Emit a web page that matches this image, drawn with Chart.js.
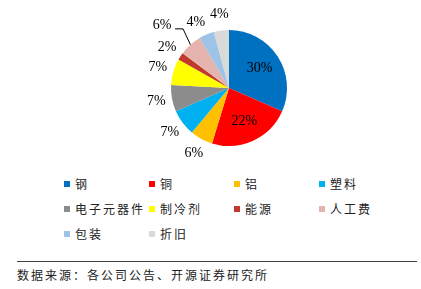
<!DOCTYPE html>
<html>
<head>
<meta charset="utf-8">
<script src="https://cdn.jsdelivr.net/npm/chart.js@4.4.0/dist/chart.umd.min.js"></script>
<style>
	body { margin: 0; background: #fff; width: 421px; height: 289px; position: relative; overflow: hidden; }
	#wrap { position: absolute; left: 0; top: 0; width: 421px; height: 165px; }
	#legend { position: absolute; left: 64px; top: 171px; display: grid; grid-template-columns: 85px 85px 85px 85px; grid-auto-rows: 25px; }
	.item { display: flex; align-items: center; font: 12px "Noto Sans CJK SC", sans-serif; letter-spacing: 2px; color: #222; white-space: nowrap; }
	.box { width: 6px; height: 6px; margin-right: 5px; flex: none; }
	#rule { position: absolute; left: 17px; top: 261px; width: 400px; height: 0; border-top: 1px solid #444; }
	#source { position: absolute; left: 17px; top: 266px; font: 12px "Noto Sans CJK SC", sans-serif; letter-spacing: 2px; color: #222; }
</style>
</head>
<body>
<div id="wrap"><canvas id="costPie"></canvas></div>
<div id="legend"></div>
<div id="rule"></div>
<div id="source">数据来源：各公司公告、开源证券研究所</div>
<script>
// COST STRUCTURE

const costItems = ["钢", "铜", "铝", "塑料", "电子元器件", "制冷剂", "能源", "人工费", "包装", "折旧"];
const costShares = [30, 22, 6, 7, 7, 7, 2, 6, 4, 4];
const costColors = ["#0070C0", "#FF0000", "#FFC000", "#00B0F0", "#8C8C8C", "#FFFF00", "#C0392B", "#E6B4AE", "#9DC3E6", "#D9D9D9"];

// which labels sit inside the pie, and the one with a leader line
const insideLabels = [0, 1];
const leaderLabel = 7;

const pieLabels = {
	id: "pieLabels",
	afterDatasetsDraw(chart) {
		const ctx = chart.ctx;
		const meta = chart.getDatasetMeta(0);
		ctx.save();
		ctx.font = "14px 'Liberation Serif', serif";
		ctx.fillStyle = "#000";
		ctx.textAlign = "center";
		ctx.textBaseline = "middle";
		meta.data.forEach((arc, i) => {
			const p = arc.getProps(["x", "y", "startAngle", "endAngle", "outerRadius"], true);
			let mid = (p.startAngle + p.endAngle) / 2;
			const text = costShares[i] + "%";
			let r;
			if (insideLabels.includes(i)) {
				r = p.outerRadius * 0.63;
			} else if (i === leaderLabel) {
				const edgeX = p.x + Math.cos(mid) * p.outerRadius;
				const edgeY = p.y + Math.sin(mid) * p.outerRadius;
				mid -= 5 * Math.PI / 180;
				r = p.outerRadius + 34;
				const tx = p.x + Math.cos(mid) * r;
				const ty = p.y + Math.sin(mid) * r;
				ctx.strokeStyle = "#000";
				ctx.lineWidth = 1;
				ctx.beginPath();
				ctx.moveTo(tx + 13, ty + 4);
				ctx.lineTo(tx + 21, ty + 4);
				ctx.lineTo(edgeX, edgeY);
				ctx.stroke();
			} else {
				r = p.outerRadius + 16;
				if (i === 8) mid -= 4 * Math.PI / 180; // keep the two 4% apart
			}
			ctx.fillText(text, p.x + Math.cos(mid) * r, p.y + Math.sin(mid) * r);
		});
		ctx.restore();
	},
};

const costData = {
	labels: costItems,
	datasets: [
		{
			data: costShares,
			backgroundColor: costColors,
			borderWidth: 0,
		},
	],
};

const costConfig = {
	type: "pie",
	data: costData,
	options: {
		responsive: true,
		maintainAspectRatio: false,
		animation: false,
		layout: { padding: { left: 171, right: 134, top: 30, bottom: 19 } },
		plugins: {
			legend: { display: false },
			tooltip: { enabled: false },
		},
	},
	plugins: [pieLabels],
};

const CostPieChart = new Chart(document.getElementById("costPie"), costConfig);

// legend built from the chart's own data
const legendEl = document.getElementById("legend");
CostPieChart.data.labels.forEach((label, i) => {
	const item = document.createElement("div");
	item.className = "item";
	const box = document.createElement("span");
	box.className = "box";
	box.style.background = CostPieChart.data.datasets[0].backgroundColor[i];
	item.appendChild(box);
	item.appendChild(document.createTextNode(label));
	legendEl.appendChild(item);
});
</script>
</body>
</html>
